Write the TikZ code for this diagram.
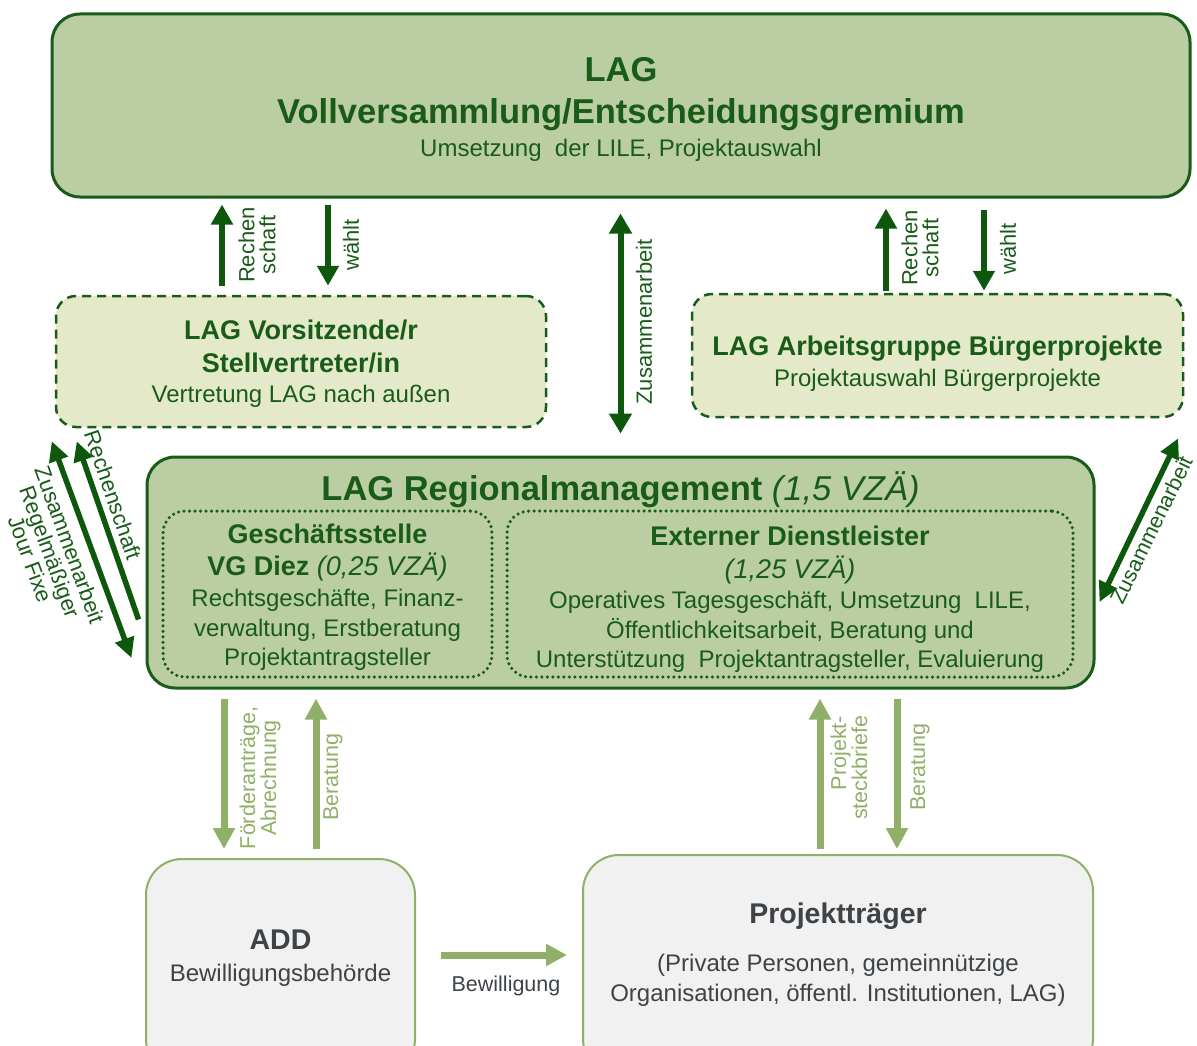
\documentclass[tikz,border=0pt]{standalone}
\usepackage{fontspec}
\setmainfont{Liberation Sans}
\usetikzlibrary{arrows.meta}
\definecolor{lagdark}{RGB}{25,92,25}
\definecolor{lagarrow}{RGB}{14,88,14}
\definecolor{lagfill}{RGB}{187,206,163}
\definecolor{lagpale}{RGB}{228,234,201}
\definecolor{laglight}{RGB}{143,176,102}
\definecolor{laggrey}{RGB}{241,241,241}
\definecolor{laggreytext}{RGB}{62,67,72}
\tikzset{
	box/.style={rectangle, rounded corners=28pt, draw=lagdark, line width=3pt, fill=lagfill},
	dashbox/.style={rectangle, rounded corners=20pt, draw=lagdark, line width=2.5pt, dash pattern=on 9pt off 6pt, fill=lagpale},
	dotbox/.style={rectangle, rounded corners=22pt, draw=lagdark, line width=3.5pt, dash pattern=on 0pt off 5.5pt, line cap=round},
	greybox/.style={rectangle, rounded corners=36pt, draw=laglight, line width=2pt, fill=laggrey},
	headtxt/.style={font=\fontsize{34.5}{40}\selectfont\bfseries, text=lagdark, inner sep=0pt, anchor=base},
	boldtxt/.style={font=\fontsize{27}{32}\selectfont\bfseries, text=lagdark, inner sep=0pt, anchor=base},
	bodytxt/.style={font=\fontsize{24}{28}\selectfont, text=lagdark, inner sep=0pt, anchor=base},
	greyhead/.style={font=\fontsize{28.5}{34}\selectfont\bfseries, text=laggreytext, inner sep=0pt, anchor=base},
	greytxt/.style={font=\fontsize{24}{28}\selectfont, text=laggreytext, inner sep=0pt, anchor=base},
	darklbl/.style={font=\fontsize{22}{21}\selectfont, text=lagdark, inner sep=0pt, align=center},
	lightlbl/.style={font=\fontsize{21.5}{21}\selectfont, text=laglight, inner sep=0pt, align=center},
	darr/.style={draw=lagarrow, line width=6pt, -{Triangle[width=21pt,length=20pt]}},
	ddarr/.style={draw=lagarrow, line width=6pt, {Triangle[width=22pt,length=20pt]}-{Triangle[width=22pt,length=20pt]}},
	diagarr/.style={draw=lagarrow, line width=5.5pt, -{Triangle[width=19pt,length=20pt]}},
	ddiagarr/.style={draw=lagarrow, line width=5.5pt, {Triangle[width=19pt,length=20pt]}-{Triangle[width=19pt,length=20pt]}},
	larr/.style={draw=laglight, line width=7pt, -{Triangle[width=21pt,length=21pt]}}
}

\begin{document}
\begin{tikzpicture}[x=1pt, y=-1pt]
	%%%%% START %%%%%
	\useasboundingbox (0,0) rectangle (1197,1046);
	\clip (0,0) rectangle (1197,1046);
	
	% boxes
	\node[box, minimum width=1138pt, minimum height=183pt] (top) at (621,105.5) {};
	\node[dashbox, minimum width=490pt, minimum height=131pt] (vors) at (301,361.5) {};
	\node[dashbox, minimum width=491pt, minimum height=123pt] (ag) at (937.5,355.5) {};
	\node[box, minimum width=947pt, minimum height=231pt] (rm) at (620.5,572.5) {};
	\node[dotbox, minimum width=329pt, minimum height=166pt] (gs) at (327.5,594) {};
	\node[dotbox, minimum width=566pt, minimum height=166pt] (ed) at (790,594) {};
	\node[greybox, minimum width=269pt, minimum height=216pt] (add) at (280.5,967) {};
	\node[greybox, minimum width=510pt, minimum height=220pt] (pt) at (838,965) {};
	
	% texts
	\node[headtxt] (topA) at (621,82) {LAG};
	\node[headtxt] (topB) at (621,124) {Vollversammlung/Entscheidungsgremium};
	\node[bodytxt] (topC) at (621,157) {Umsetzung\ \ der LILE, Projektauswahl};
	
	\node[boldtxt] (vorsA) at (301,339) {LAG Vorsitzende/r};
	\node[boldtxt] (vorsB) at (301,372) {Stellvertreter/in};
	\node[bodytxt] (vorsC) at (301,402) {Vertretung LAG nach außen};
	
	\node[boldtxt] (agA) at (937.5,355) {LAG Arbeitsgruppe Bürgerprojekte};
	\node[bodytxt] (agB) at (937.5,386) {Projektauswahl Bürgerprojekte};
	
	\node[headtxt] (rmA) at (620.5,500) {LAG Regionalmanagement \textit{\mdseries (1,5 VZÄ)}};
	
	\node[boldtxt] (gsA) at (327.5,543) {Geschäftsstelle};
	\node[boldtxt] (gsB) at (327.5,575) {VG Diez \textit{\mdseries (0,25 VZÄ)}};
	\node[bodytxt] (gsC) at (327.5,606) {Rechtsgeschäfte, Finanz-};
	\node[bodytxt] (gsD) at (327.5,636) {verwaltung, Erstberatung};
	\node[bodytxt] (gsE) at (327.5,665) {Projektantragsteller};
	
	\node[boldtxt] (edA) at (790,545) {Externer Dienstleister};
	\node[boldtxt] (edB) at (790,578) {\textit{\mdseries (1,25 VZÄ)}};
	\node[bodytxt] (edC) at (790,608) {Operatives Tagesgeschäft, Umsetzung\ \ LILE,};
	\node[bodytxt] (edD) at (790,638) {Öffentlichkeitsarbeit, Beratung und};
	\node[bodytxt] (edE) at (790,667) {Unterstützung\ \ Projektantragsteller, Evaluierung};
	
	\node[greyhead] (addA) at (280.5,949) {ADD};
	\node[greytxt] (addB) at (280.5,981) {Bewilligungsbehörde};
	
	\node[greyhead] (ptA) at (838,923) {Projektträger};
	\node[greytxt] (ptB) at (838,971) {(Private Personen, gemeinnützige};
	\node[greytxt] (ptC) at (838,1001) {Organisationen, öffentl. Institutionen, LAG)};
	
	% dark arrows
	\draw[darr, shorten <=9pt, shorten >=6pt] ([xshift=-79pt]vors.north) -- ([xshift=-399pt]top.south);
	\draw[darr, shorten <=6pt, shorten >=9pt] ([xshift=-293pt]top.south) -- ([xshift=27pt]vors.north);
	\draw[darr, shorten <=2pt, shorten >=10pt] ([xshift=-51.5pt]ag.north) -- ([xshift=265pt]top.south);
	\draw[darr, shorten <=11pt, shorten >=2pt] ([xshift=363pt]top.south) -- ([xshift=46.5pt]ag.north);
	\draw[ddarr, shorten <=15pt, shorten >=22pt] ([xshift=-0.5pt]top.south) -- (rm.north);
	\draw[diagarr] ([xshift=-7pt,yshift=-47pt]rm.west) -- ([xshift=22pt,yshift=-13pt]vors.south west);
	\draw[ddiagarr] ([xshift=-3pt,yshift=-13pt]vors.south west) -- ([xshift=-14pt,yshift=-85.5pt]rm.west);
	\draw[ddiagarr] ([xshift=4pt,yshift=-29.5pt]rm.east) -- ([xshift=-6pt,yshift=-20pt]ag.south east);
	
	\node[darklbl, rotate=90] (lblRL) at (257,245) {Rechen\\schaft};
	\node[darklbl, rotate=90] (lblWL) at (351,245) {wählt};
	\node[darklbl, rotate=90] (lblRR) at (920,248) {Rechen\\schaft};
	\node[darklbl, rotate=90] (lblWR) at (1008,249) {wählt};
	\node[darklbl, rotate=90] (lblZM) at (644,322) {Zusammenarbeit};
	\node[darklbl, rotate=-71] (lblRD) at (113,495) {Rechenschaft};
	\node[darklbl, rotate=-70] (lblZD) at (50,552) {Zusammenarbeit\\Regelmäßiger\\Jour Fixe};
	\node[darklbl, rotate=64, font=\fontsize{21.5}{21}\selectfont] (lblZR) at (1151,530) {Zusammenarbeit};
	
	% light arrows
	\draw[larr, shorten <=9pt, shorten >=9pt] ([xshift=-396.5pt]rm.south) -- ([xshift=-56.5pt]add.north);
	\draw[larr, shorten <=9pt, shorten >=9pt] ([xshift=35.5pt]add.north) -- ([xshift=-304.5pt]rm.south);
	\draw[larr, shorten <=5pt, shorten >=9pt] ([xshift=-18pt]pt.north) -- ([xshift=199.5pt]rm.south);
	\draw[larr, shorten <=9pt, shorten >=5pt] ([xshift=276.5pt]rm.south) -- ([xshift=59pt]pt.north);
	\draw[larr, shorten <=25pt, shorten >=15pt] ([yshift=12pt]add.east) -- ([yshift=10pt]pt.west);
	
	\node[lightlbl, rotate=90] (lblFA) at (260,778) {Förderanträge,\\Abrechnung};
	\node[lightlbl, rotate=90] (lblBL) at (333,777) {Beratung};
	\node[lightlbl, rotate=90, align=right] (lblPS) at (849,768) {Projekt-\\steckbriefe};
	\node[lightlbl, rotate=90] (lblBR) at (920,767) {Beratung};
	\node[greytxt, font=\fontsize{21.5}{26}\selectfont] (lblBW) at (506,991) {Bewilligung};
	%%%%% END %%%%%
\end{tikzpicture}
\end{document}
